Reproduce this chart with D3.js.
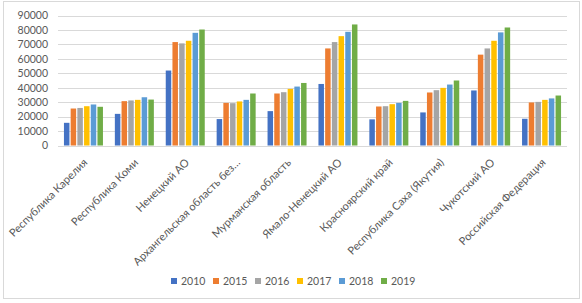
<!DOCTYPE html>
<html>
<head>
<meta charset="utf-8">
<script src="https://cdn.jsdelivr.net/npm/d3@7"></script>
<style>
  html, body { margin: 0; padding: 0; background: #fff; }
  svg { display: block; }
  text { font-family: Lato, "Open Sans", "Liberation Sans", sans-serif; fill: #595959; }
</style>
</head>
<body>
<svg id="chart" width="582" height="303"></svg>
<script>
const categories = [
  "Республика Карелия",
  "Республика Коми",
  "Ненецкий АО",
  "Архангельская область без…",
  "Мурманская область",
  "Ямало-Ненецкий АО",
  "Красноярский край",
  "Республика Саха (Якутия)",
  "Чукотский АО",
  "Российская Федерация"
];
const years = ["2010", "2015", "2016", "2017", "2018", "2019"];
const colors = ["#4472C4", "#ED7D31", "#A5A5A5", "#FFC000", "#5B9BD5", "#70AD47"];
const values2010 = [15700, 21900, 51900, 18300, 23800, 42600, 18100, 22900, 38100, 18500];
const values2015 = [25600, 30700, 71600, 29500, 36000, 67200, 27000, 36700, 62900, 29800];
const values2016 = [26000, 31200, 70700, 29300, 36900, 71600, 27200, 38300, 67200, 30200];
const values2017 = [27200, 31600, 72500, 30500, 39200, 75700, 28600, 39900, 72500, 31600];
const values2018 = [28400, 33400, 78000, 31600, 40800, 78700, 29500, 42200, 78300, 32600];
const values2019 = [26800, 31800, 80300, 36000, 43300, 83800, 30900, 45000, 81700, 34600];
const series = [values2010, values2015, values2016, values2017, values2018, values2019];
const yTicks = [0, 10000, 20000, 30000, 40000, 50000, 60000, 70000, 80000, 90000];

const svg = d3.select("#chart");

// outer frame
svg.append("rect")
  .attr("x", 3.5).attr("y", 1.5).attr("width", 576).attr("height", 297)
  .attr("fill", "none").attr("stroke", "#d9d9d9").attr("stroke-width", 1);

const plotLeft = 58, plotRight = 567, plotTop = 15.5, plotBottom = 145.5;

const y = d3.scaleLinear().domain([0, 90000]).range([plotBottom, plotTop]);
const x0 = d3.scaleBand().domain(categories).range([plotLeft, plotRight]).paddingInner(0).paddingOuter(0);
const groupW = 39;
const x1 = d3.scaleBand().domain(years)
  .range([(x0.bandwidth() - groupW) / 2, (x0.bandwidth() + groupW) / 2])
  .paddingInner(0.18);

// gridlines
svg.append("g").selectAll("line").data(yTicks).join("line")
  .attr("x1", plotLeft).attr("x2", plotRight)
  .attr("y1", d => Math.round(y(d)) + 0.5).attr("y2", d => Math.round(y(d)) + 0.5)
  .attr("stroke", "#d9d9d9").attr("stroke-width", 1);

// y axis labels
const yAxis = d3.axisLeft(y).tickValues(yTicks).tickSize(0).tickPadding(0).tickFormat(d3.format("d"));
const gy = svg.append("g").attr("transform", `translate(48,0)`).call(yAxis);
gy.select(".domain").remove();
gy.selectAll("text").style("font-size", "10.5px").attr("fill", "#595959")
  .style("font-family", "Lato, 'Open Sans', sans-serif");

// bars
const groups = svg.append("g").selectAll("g").data(categories).join("g")
  .attr("transform", d => `translate(${x0(d)},0)`);
groups.selectAll("rect")
  .data((c, i) => years.map((yr, j) => ({ yr, j, v: series[j][i] })))
  .join("rect")
  .attr("x", d => x1(d.yr))
  .attr("width", x1.bandwidth())
  .attr("y", d => y(d.v))
  .attr("height", d => y(0) - y(d.v))
  .attr("fill", d => colors[d.j]);

// x axis labels
const xAxis = d3.axisBottom(x0).tickSize(0).tickPadding(0);
const gx = svg.append("g").attr("transform", `translate(0,${plotBottom})`).call(xAxis);
gx.select(".domain").remove();
gx.selectAll("text")
  .style("font-size", "11px")
  .style("font-family", "Lato, 'Open Sans', sans-serif")
  .attr("fill", "#595959")
  .attr("text-anchor", "end")
  .attr("dy", "0.35em")
  .attr("transform", "translate(2,15) rotate(-45)");

// legend
const legendX = [171, 213, 255, 297, 339, 381];
const lg = svg.append("g").selectAll("g").data(years).join("g")
  .attr("transform", (d, i) => `translate(${legendX[i]},281)`);
lg.append("rect").attr("x", 0).attr("y", -3).attr("width", 6).attr("height", 6)
  .attr("fill", (d, i) => colors[i]);
lg.append("text").attr("x", 10).attr("y", 0).attr("dy", "0.35em")
  .style("font-size", "10.5px").text(d => d);
</script>
</body>
</html>
